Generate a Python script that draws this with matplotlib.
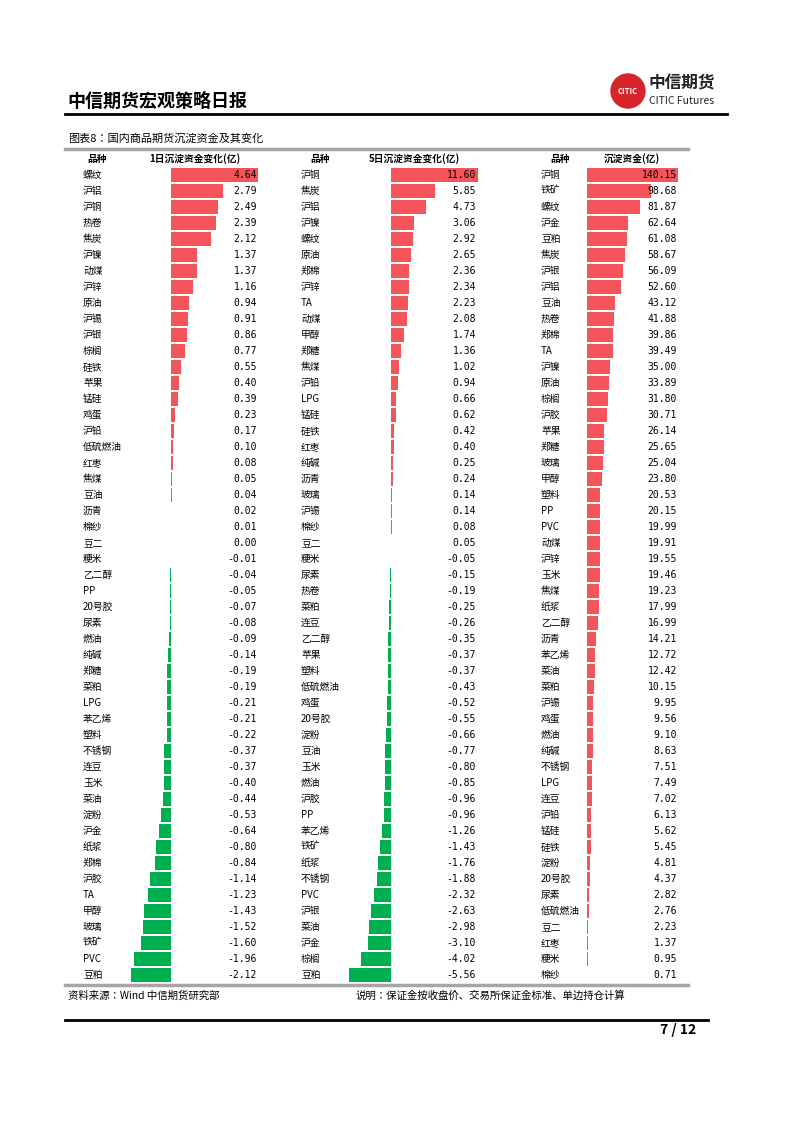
import matplotlib
matplotlib.use("Agg")
import matplotlib.pyplot as plt
from matplotlib.transforms import blended_transform_factory
from matplotlib.patches import Ellipse

plt.rcParams['font.family'] = ['Noto Sans CJK JP', 'Noto Sans CJK SC', 'DejaVu Sans']
plt.rcParams['axes.unicode_minus'] = False

names_1d = ['螺纹', '沪铝', '沪铜', '热卷', '焦炭', '沪镍', '动煤', '沪锌', '原油', '沪锡', '沪银', '棕榈',
            '硅铁', '苹果', '锰硅', '鸡蛋', '沪铅', '低硫燃油', '红枣', '焦煤', '豆油', '沥青', '棉纱', '豆二',
            '粳米', '乙二醇', 'PP', '20号胶', '尿素', '燃油', '纯碱', '郑糖', '菜粕', 'LPG', '苯乙烯', '塑料',
            '不锈钢', '连豆', '玉米', '菜油', '淀粉', '沪金', '纸浆', '郑棉', '沪胶', 'TA', '甲醇', '玻璃',
            '铁矿', 'PVC', '豆粕']
vals_1d = [4.64, 2.79, 2.49, 2.39, 2.12, 1.37, 1.37, 1.16, 0.94, 0.91, 0.86, 0.77,
           0.55, 0.40, 0.39, 0.23, 0.17, 0.10, 0.08, 0.05, 0.04, 0.02, 0.01, 0.00,
           -0.01, -0.04, -0.05, -0.07, -0.08, -0.09, -0.14, -0.19, -0.19, -0.21, -0.21, -0.22,
           -0.37, -0.37, -0.40, -0.44, -0.53, -0.64, -0.80, -0.84, -1.14, -1.23, -1.43, -1.52,
           -1.60, -1.96, -2.12]

names_5d = ['沪铜', '焦炭', '沪铝', '沪镍', '螺纹', '原油', '郑棉', '沪锌', 'TA', '动煤', '甲醇', '郑糖',
            '焦煤', '沪铅', 'LPG', '锰硅', '硅铁', '红枣', '纯碱', '沥青', '玻璃', '沪锡', '棉纱', '豆二',
            '粳米', '尿素', '热卷', '菜粕', '连豆', '乙二醇', '苹果', '塑料', '低硫燃油', '鸡蛋', '20号胶', '淀粉',
            '豆油', '玉米', '燃油', '沪胶', 'PP', '苯乙烯', '铁矿', '纸浆', '不锈钢', 'PVC', '沪银', '菜油',
            '沪金', '棕榈', '豆粕']
vals_5d = [11.60, 5.85, 4.73, 3.06, 2.92, 2.65, 2.36, 2.34, 2.23, 2.08, 1.74, 1.36,
           1.02, 0.94, 0.66, 0.62, 0.42, 0.40, 0.25, 0.24, 0.14, 0.14, 0.08, 0.05,
           -0.05, -0.15, -0.19, -0.25, -0.26, -0.35, -0.37, -0.37, -0.43, -0.52, -0.55, -0.66,
           -0.77, -0.80, -0.85, -0.96, -0.96, -1.26, -1.43, -1.76, -1.88, -2.32, -2.63, -2.98,
           -3.10, -4.02, -5.56]

names_tot = ['沪铜', '铁矿', '螺纹', '沪金', '豆粕', '焦炭', '沪银', '沪铝', '豆油', '热卷', '郑棉', 'TA',
             '沪镍', '原油', '棕榈', '沪胶', '苹果', '郑糖', '玻璃', '甲醇', '塑料', 'PP', 'PVC', '动煤',
             '沪锌', '玉米', '焦煤', '纸浆', '乙二醇', '沥青', '苯乙烯', '菜油', '菜粕', '沪锡', '鸡蛋', '燃油',
             '纯碱', '不锈钢', 'LPG', '连豆', '沪铅', '锰硅', '硅铁', '淀粉', '20号胶', '尿素', '低硫燃油', '豆二',
             '红枣', '粳米', '棉纱']
vals_tot = [140.15, 98.68, 81.87, 62.64, 61.08, 58.67, 56.09, 52.60, 43.12, 41.88, 39.86, 39.49,
            35.00, 33.89, 31.80, 30.71, 26.14, 25.65, 25.04, 23.80, 20.53, 20.15, 19.99, 19.91,
            19.55, 19.46, 19.23, 17.99, 16.99, 14.21, 12.72, 12.42, 10.15, 9.95, 9.56, 9.10,
            8.63, 7.51, 7.49, 7.02, 6.13, 5.62, 5.45, 4.81, 4.37, 2.82, 2.76, 2.23,
            1.37, 0.95, 0.71]

headers = ['1日沉淀资金变化(亿)', '5日沉淀资金变化(亿)', '沉淀资金(亿)']

W, H = 793, 1122
fig = plt.figure(figsize=(W / 100, H / 100), dpi=100)
fx = lambda px: px / W
fy = lambda py: 1 - py / H

RED = '#f4555a'
GREEN = '#00b050'

# header
fig.text(fx(67), fy(101), '中信期货宏观策略日报', fontsize=13, fontweight='bold', va='center')
fig.add_artist(plt.Line2D([fx(65), fx(727)], [fy(114), fy(114)], color='black', lw=2))
fig.add_artist(Ellipse((fx(628), fy(91)), 34 / W, 34 / H, transform=fig.transFigure, color='#d7252b'))
fig.text(fx(628), fy(91), 'CITIC', fontsize=5.5, color='white', ha='center', va='center', fontweight='bold')
fig.text(fx(649), fy(83), '中信期货', fontsize=12, fontweight='bold', color='#222222', va='center')
fig.text(fx(649), fy(101), 'CITIC Futures', fontsize=7.5, color='#222222', va='center')

fig.text(fx(68), fy(138), '图表8：国内商品期货沉淀资金及其变化', fontsize=8, va='center')
fig.add_artist(plt.Line2D([fx(65), fx(688)], [fy(149), fy(149)], color='#a6a6a6', lw=2.5))
fig.add_artist(plt.Line2D([fx(65), fx(688)], [fy(985), fy(985)], color='#a6a6a6', lw=2.5))
fig.text(fx(68), fy(996), '资料来源：Wind 中信期货研究部', fontsize=7.5, va='center')
fig.text(fx(356), fy(996), '说明：保证金按收盘价、交易所保证金标准、单边持仓计算', fontsize=7.5, va='center')
fig.add_artist(plt.Line2D([fx(65), fx(708)], [fy(1020), fy(1020)], color='black', lw=2))
fig.text(fx(696), fy(1030), '7 / 12', fontsize=10, fontweight='bold', ha='right', va='center')

# columns: (names, values, header, zero px, px per unit, name x, value x, 品种 x, header x)
cols = [
    (names_1d, vals_1d, headers[0], 171, 87 / 4.64, 83, 257, 97, 195),
    (names_5d, vals_5d, headers[1], 391, 87 / 11.6, 301, 476, 320, 414),
    (names_tot, vals_tot, headers[2], 587, 91 / 140.15, 541, 677, 560, 632),
]

top, bot = 167, 983
n = len(names_1d)
for names, vals, head, zero, scale, nx, vx, px, hx in cols:
    left, right = zero - 50, zero + 95
    ax = fig.add_axes([fx(left), fy(bot), (right - left) / W, (bot - top) / H])
    ax.set_xlim((left - zero) / scale, (right - zero) / scale)
    ax.set_ylim(n - 0.5, -0.5)
    ax.axis('off')
    colors = [RED if v >= 0 else GREEN for v in vals]
    ax.barh(range(n), vals, height=0.88, color=colors)
    tr = blended_transform_factory(fig.transFigure, ax.transData)
    for i, (nm, v) in enumerate(zip(names, vals)):
        ax.text(fx(nx), i, nm, transform=tr, fontsize=7, ha='left', va='center')
        ax.text(fx(vx), i, f'{v:.2f}', transform=tr, fontsize=7, ha='right', va='center',
                fontfamily='DejaVu Sans Mono')
    fig.text(fx(px), fy(159), '品种', fontsize=7, fontweight='bold', ha='center', va='center')
    fig.text(fx(hx), fy(159), head, fontsize=7, fontweight='bold', ha='center', va='center')

fig.savefig('out.png', dpi=100, facecolor='white')
